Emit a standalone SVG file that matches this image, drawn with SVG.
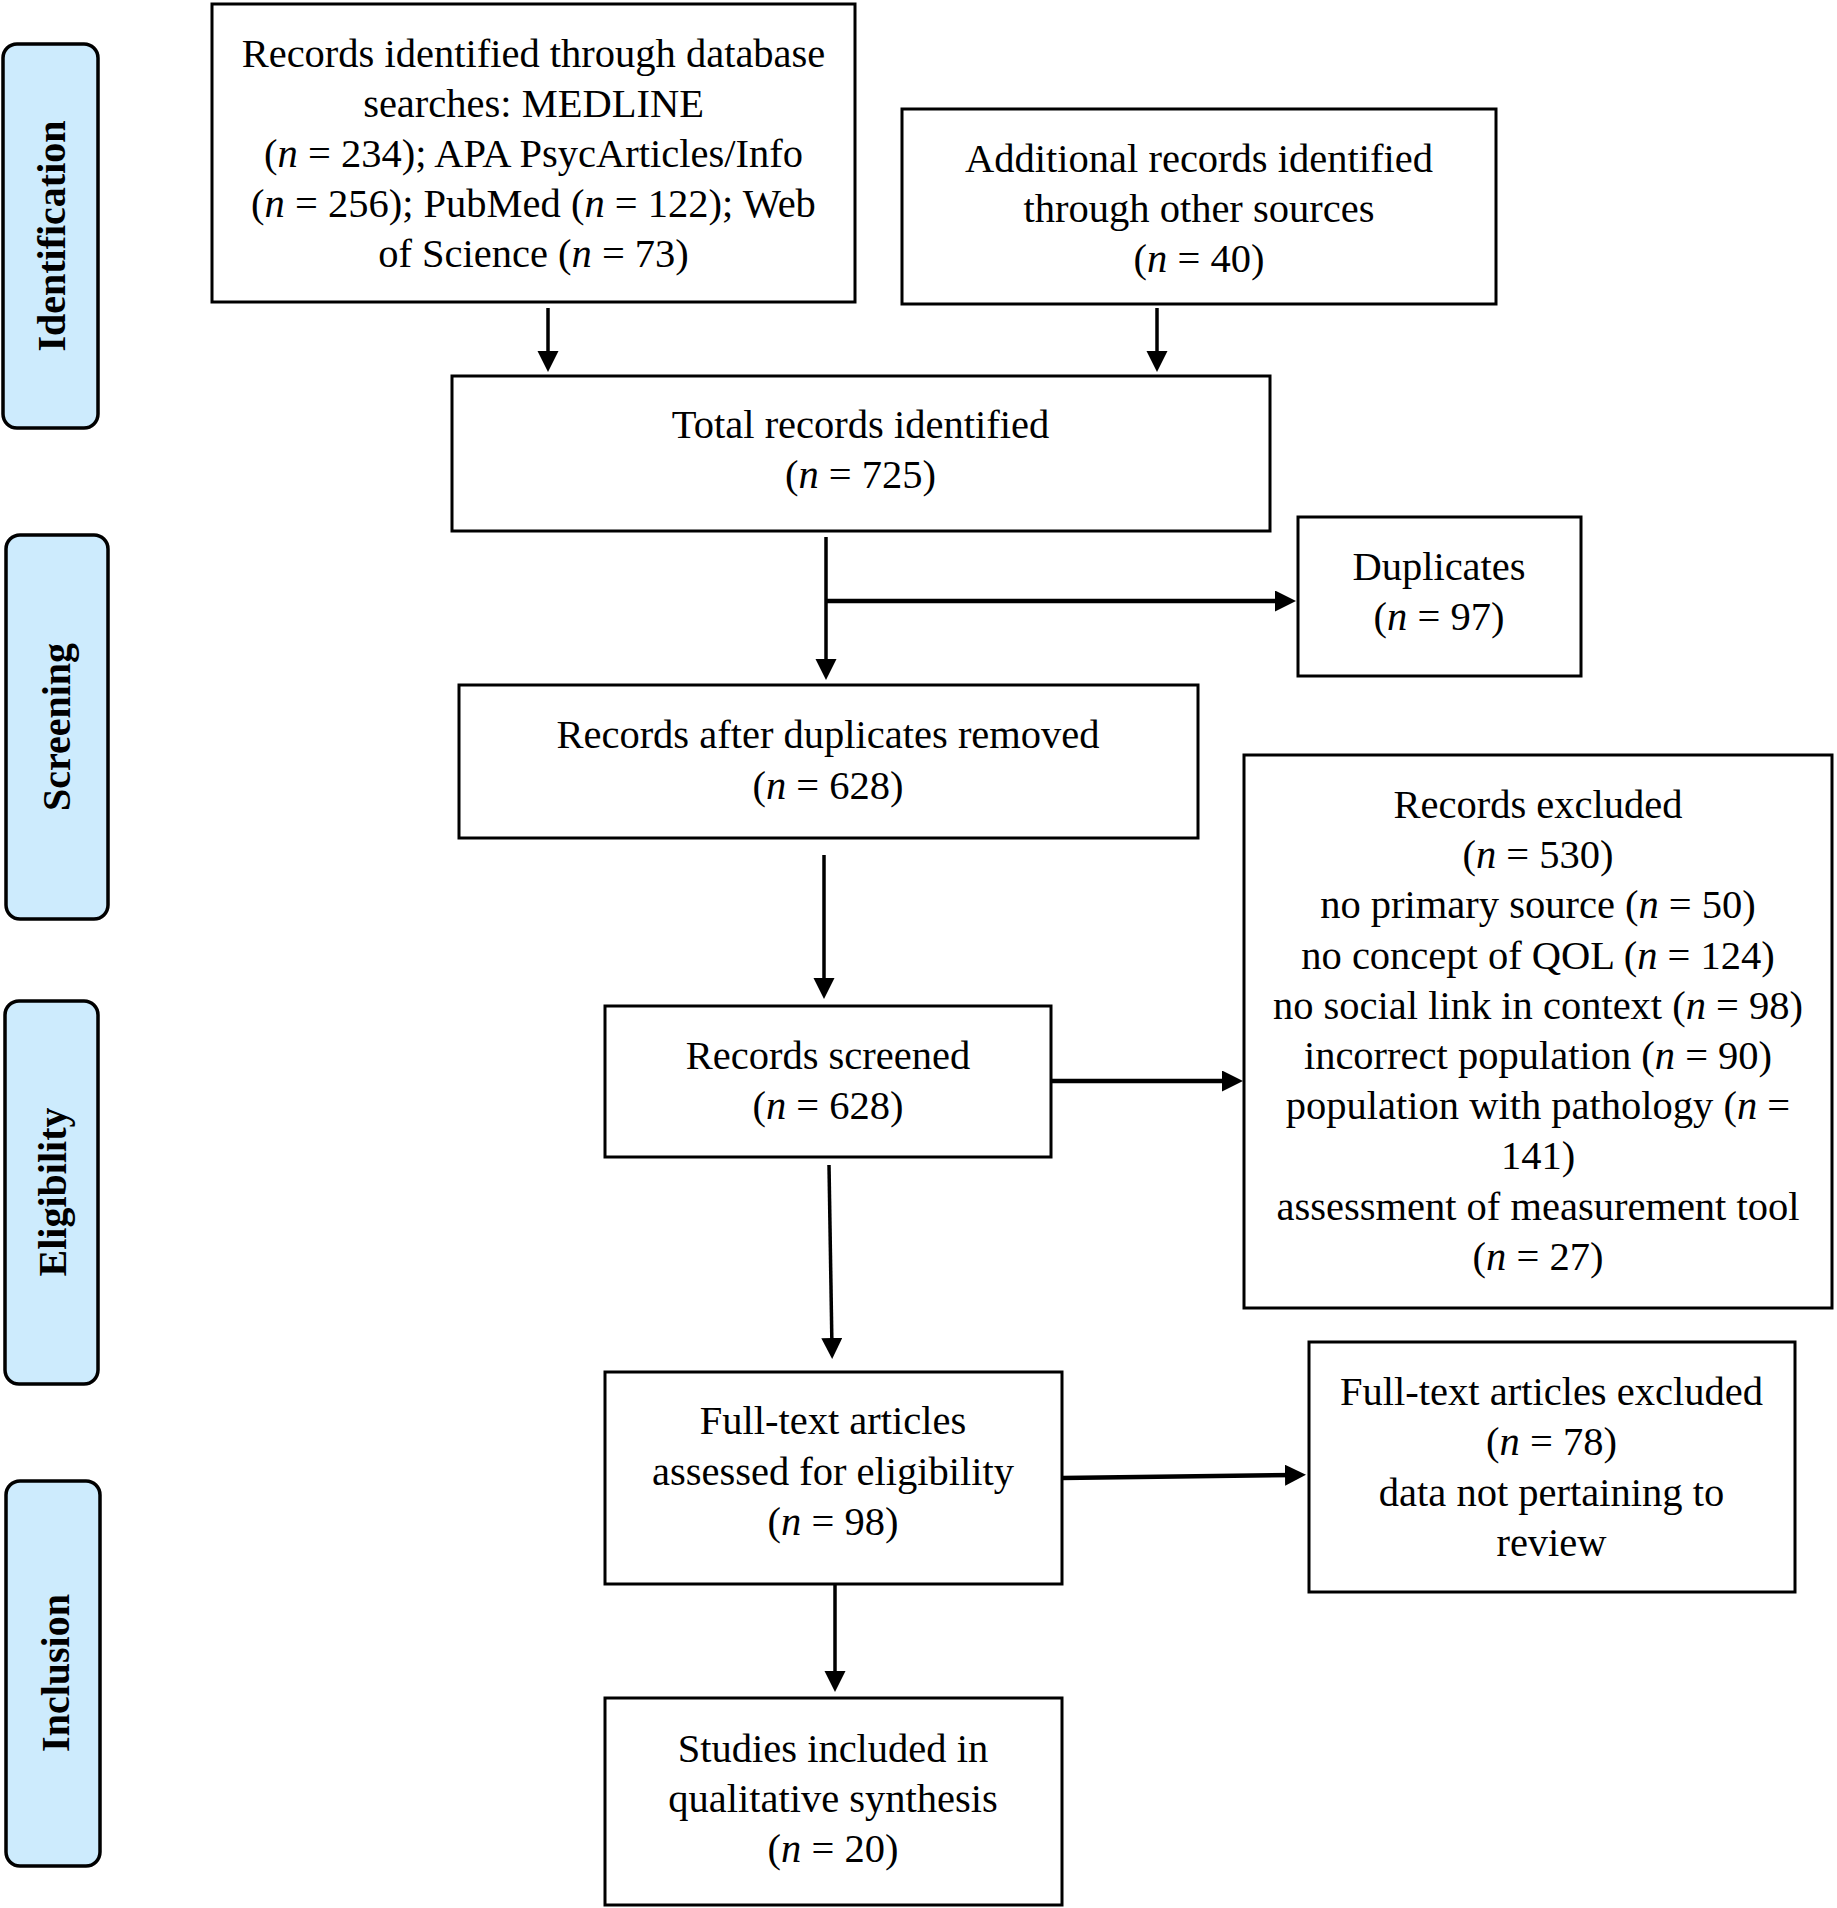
<svg xmlns="http://www.w3.org/2000/svg" width="1837" height="1908" viewBox="0 0 1837 1908">
<style>
.box{fill:#ffffff;stroke:#000000;stroke-width:3}
.phase{fill:#cdebfd;stroke:#000000;stroke-width:3.5}
.t{font-family:"Liberation Serif","Times New Roman",serif;font-size:40.5px;fill:#000000;text-anchor:middle}
.p{font-family:"Liberation Serif","Times New Roman",serif;font-size:40px;font-weight:bold;fill:#000000;text-anchor:middle}
.i{font-style:italic}
.c{stroke:#000000;fill:none;stroke-width:3.5}
.h{stroke-width:4.5}
</style>
<defs>
<marker id="ah" markerUnits="userSpaceOnUse" markerWidth="22" markerHeight="22" refX="11" refY="10.5" orient="auto">
<path d="M0,0 L21,10.5 L0,21 Z" fill="#000000"/>
</marker>
</defs>
<rect width="1837" height="1908" fill="#ffffff"/>

<g id="phase-identification">
<rect class="phase" x="3" y="44" width="95" height="384" rx="14"/>
<text class="p" transform="translate(65,236) rotate(-90)">Identification</text>
</g>
<g id="phase-screening">
<rect class="phase" x="6" y="535" width="102" height="384" rx="14"/>
<text class="p" transform="translate(70,727) rotate(-90)">Screening</text>
</g>
<g id="phase-eligibility">
<rect class="phase" x="5" y="1001" width="93" height="383" rx="14"/>
<text class="p" transform="translate(66,1192) rotate(-90)">Eligibility</text>
</g>
<g id="phase-inclusion">
<rect class="phase" x="6" y="1481" width="94" height="385" rx="14"/>
<text class="p" transform="translate(69,1673) rotate(-90)">Inclusion</text>
</g>

<g id="connectors">
<line class="c" x1="548" y1="308" x2="548" y2="362" marker-end="url(#ah)"/>
<line class="c" x1="1157" y1="308" x2="1157" y2="362" marker-end="url(#ah)"/>
<line class="c" x1="826" y1="537" x2="826" y2="670" marker-end="url(#ah)"/>
<line class="c h" x1="826" y1="601" x2="1286" y2="601" marker-end="url(#ah)"/>
<line class="c" x1="824" y1="855" x2="824" y2="989" marker-end="url(#ah)"/>
<line class="c h" x1="1051" y1="1081" x2="1233" y2="1081" marker-end="url(#ah)"/>
<line class="c" x1="829" y1="1165" x2="832" y2="1349" marker-end="url(#ah)"/>
<line class="c h" x1="1062" y1="1478" x2="1296" y2="1475" marker-end="url(#ah)"/>
<line class="c" x1="835" y1="1585" x2="835" y2="1682" marker-end="url(#ah)"/>
</g>

<g id="node-database">
<rect class="box" x="212" y="4" width="643" height="298"/>
<text class="t" x="533.5" y="67">Records identified through database</text>
<text class="t" x="533.5" y="117">searches: MEDLINE</text>
<text class="t" x="533.5" y="167">(<tspan class="i">n</tspan> = 234); APA PsycArticles/Info</text>
<text class="t" x="533.5" y="217">(<tspan class="i">n</tspan> = 256); PubMed (<tspan class="i">n</tspan> = 122); Web</text>
<text class="t" x="533.5" y="267">of Science (<tspan class="i">n</tspan> = 73)</text>
</g>

<g id="node-additional">
<rect class="box" x="902" y="109" width="594" height="195"/>
<text class="t" x="1199" y="171.5">Additional records identified</text>
<text class="t" x="1199" y="222">through other sources</text>
<text class="t" x="1199" y="272">(<tspan class="i">n</tspan> = 40)</text>
</g>

<g id="node-total">
<rect class="box" x="452" y="376" width="818" height="155"/>
<text class="t" x="860.5" y="438">Total records identified</text>
<text class="t" x="860.5" y="488">(<tspan class="i">n</tspan> = 725)</text>
</g>

<g id="node-duplicates">
<rect class="box" x="1298" y="517" width="283" height="159"/>
<text class="t" x="1439" y="580">Duplicates</text>
<text class="t" x="1439" y="630">(<tspan class="i">n</tspan> = 97)</text>
</g>

<g id="node-after-duplicates">
<rect class="box" x="459" y="685" width="739" height="153"/>
<text class="t" x="828" y="748">Records after duplicates removed</text>
<text class="t" x="828" y="799">(<tspan class="i">n</tspan> = 628)</text>
</g>

<g id="node-screened">
<rect class="box" x="605" y="1006" width="446" height="151"/>
<text class="t" x="828" y="1069">Records screened</text>
<text class="t" x="828" y="1119">(<tspan class="i">n</tspan> = 628)</text>
</g>

<g id="node-excluded">
<rect class="box" x="1244" y="755" width="588" height="553"/>
<text class="t" x="1538" y="818">Records excluded</text>
<text class="t" x="1538" y="868">(<tspan class="i">n</tspan> = 530)</text>
<text class="t" x="1538" y="918">no primary source (<tspan class="i">n</tspan> = 50)</text>
<text class="t" x="1538" y="969">no concept of QOL (<tspan class="i">n</tspan> = 124)</text>
<text class="t" x="1538" y="1019">no social link in context (<tspan class="i">n</tspan> = 98)</text>
<text class="t" x="1538" y="1069">incorrect population (<tspan class="i">n</tspan> = 90)</text>
<text class="t" x="1538" y="1119">population with pathology (<tspan class="i">n</tspan> =</text>
<text class="t" x="1538" y="1169">141)</text>
<text class="t" x="1538" y="1220">assessment of measurement tool</text>
<text class="t" x="1538" y="1270">(<tspan class="i">n</tspan> = 27)</text>
</g>

<g id="node-fulltext">
<rect class="box" x="605" y="1372" width="457" height="212"/>
<text class="t" x="833" y="1434">Full-text articles</text>
<text class="t" x="833" y="1485">assessed for eligibility</text>
<text class="t" x="833" y="1535">(<tspan class="i">n</tspan> = 98)</text>
</g>

<g id="node-fulltext-excluded">
<rect class="box" x="1309" y="1342" width="486" height="250"/>
<text class="t" x="1551.5" y="1405">Full-text articles excluded</text>
<text class="t" x="1551.5" y="1455">(<tspan class="i">n</tspan> = 78)</text>
<text class="t" x="1551.5" y="1506">data not pertaining to</text>
<text class="t" x="1551.5" y="1556">review</text>
</g>

<g id="node-included">
<rect class="box" x="605" y="1698" width="457" height="207"/>
<text class="t" x="833" y="1762">Studies included in</text>
<text class="t" x="833" y="1812">qualitative synthesis</text>
<text class="t" x="833" y="1862">(<tspan class="i">n</tspan> = 20)</text>
</g>
</svg>
